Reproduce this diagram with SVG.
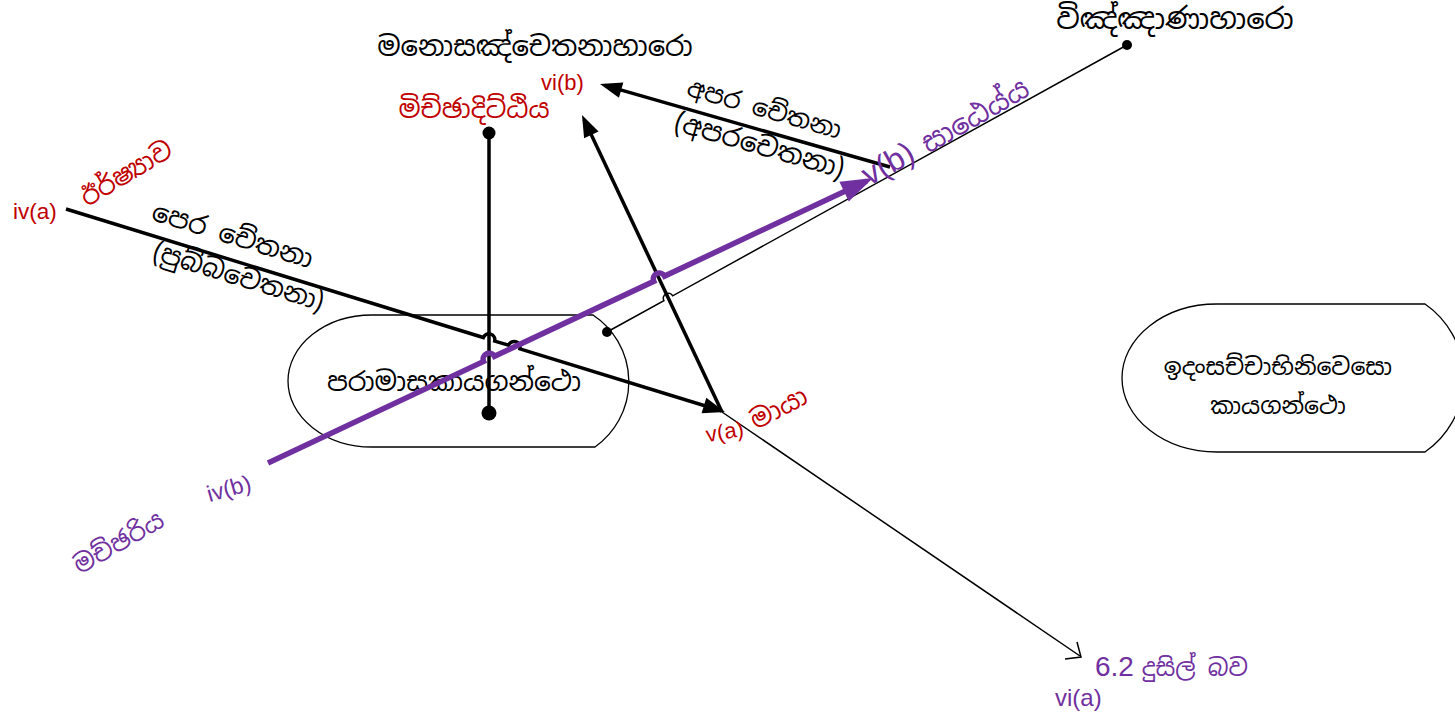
<svg xmlns="http://www.w3.org/2000/svg" width="1455" height="714" viewBox="0 0 1455 714">
<style>
.si{font-family:"Noto Sans Sinhala","Noto Sans","Iskoola Pota",sans-serif}
.la{font-family:"Liberation Sans",Arial,sans-serif}
.k{fill:#000}
.r{fill:#c00000}
.p{fill:#7030a0}
.thick{fill:none;stroke:#000;stroke-width:3.5}
.thin{fill:none;stroke:#000;stroke-width:1.5}
.pur{fill:none;stroke:#7030a0;stroke-width:5.5}
.shape{fill:#fff;stroke:#000;stroke-width:1.3}
</style>
<defs>
<marker id="ab" markerUnits="userSpaceOnUse" markerWidth="24" markerHeight="18" refX="17" refY="8" orient="auto" overflow="visible">
<path d="M0,0 L22,8 L0,16 Z" fill="#000"/>
</marker>
<marker id="ap" markerUnits="userSpaceOnUse" markerWidth="34" markerHeight="24" refX="25" refY="11" orient="auto" overflow="visible">
<path d="M0,0 L32,11 L0,22 Z" fill="#7030a0"/>
</marker>
</defs>

<g id="node-paramasa">
<path class="shape" d="M372,315 L593,315 A80,80 0 0 1 595,447 L372,447 A84,66 0 0 1 372,315 Z"/>
<text class="si k" x="454" y="391" font-size="26.5" text-anchor="middle">පරාමාසකායගන්ථො</text>
</g>
<g id="node-idamsacca">
<path class="shape" d="M1217,304 L1425,304 A90,90 0 0 1 1425,452 L1217,452 A95,74 0 0 1 1217,304 Z"/>
<text class="si k" x="1278" y="375" font-size="23.5" text-anchor="middle">ඉදංසච්චාභිනිවෙසො</text>
<text class="si k" x="1278" y="414" font-size="23.5" text-anchor="middle">කායගන්ථො</text>
</g>

<g id="connectors">
<path class="thick" marker-end="url(#ab)" d="M66,209 L483.3,337.5 A6,6 0 0 1 494.7,341.1 L508.5,345.2 A6,6 0 0 1 519.9,348.8 L720.2,410.5"/>
<path class="thick" marker-end="url(#ab)" d="M722,412 L584.1,119.5"/>
<path class="thick" marker-end="url(#ab)" d="M890,167 L604.8,85.4"/>
<line class="thick" x1="489" y1="133" x2="489" y2="413"/>
<path class="thin" d="M607,332 L663.9,300.6 A5,5 0 0 1 672.7,295.8 L1127,45"/>
<path class="thin" d="M722,412 L1080,656"/>
<path class="thin" stroke-width="2.2" d="M1077,642 L1081,657 L1065,659"/>
<path class="pur" marker-end="url(#ap)" d="M268,463 L483.6,361.5 A6,6 0 0 1 494.4,356.3 L653.8,281.3 A6,6 0 0 1 664.6,276.1 L866.7,181"/>
<circle cx="489" cy="133" r="6.5" fill="#000"/>
<circle cx="489" cy="413" r="7.5" fill="#000"/>
<circle cx="607" cy="332" r="5" fill="#000"/>
<circle cx="1127" cy="45" r="5" fill="#000"/>
</g>

<g id="label-manosanchetana"><text class="si k" x="535" y="56" font-size="27.5" text-anchor="middle">මනොසඤ්චෙතනාහාරො</text></g>
<g id="label-vinnana"><text class="si k" x="1175" y="29" font-size="29" text-anchor="middle">විඤ්ඤාණාහාරො</text></g>
<g id="label-miccha"><text class="si r" x="474" y="118" font-size="26" text-anchor="middle">මිච්ඡාදිට්ඨිය</text></g>
<g id="label-vib"><text class="la r" x="541" y="90" font-size="22">vi(b)</text></g>
<g id="label-iva"><text class="la r" x="13" y="219" font-size="22.5">iv(a)</text></g>
<g id="label-irsha"><text class="si r" font-size="26" text-anchor="middle" transform="translate(131,181) rotate(-31)">ඊර්ෂ්‍යාව</text></g>
<g id="label-pera"><text class="si k" font-size="26.5" text-anchor="middle" transform="translate(230,244) rotate(17)">පෙර චේතනා</text>
<text class="si k" font-size="26" text-anchor="middle" transform="translate(236,285) rotate(17)">(පුබ්බචෙතනා)</text></g>
<g id="label-apara"><text class="si k" font-size="25" text-anchor="middle" transform="translate(762,117) rotate(16)">අපර චේතනා</text>
<text class="si k" font-size="27" text-anchor="middle" transform="translate(757,154) rotate(16)">(අපරචෙතනා)</text></g>
<g id="label-vb"><text class="la p" font-size="32" text-anchor="middle" transform="translate(893,173) rotate(-29)">v(b)</text></g>
<g id="label-satheyya"><text class="si p" font-size="28" text-anchor="middle" transform="translate(980,124) rotate(-30)">සාඨෙය්ය</text></g>
<g id="label-va"><text class="la r" font-size="22" text-anchor="middle" transform="translate(726,439) rotate(-10)">v(a)</text></g>
<g id="label-maya"><text class="si r" font-size="26" text-anchor="middle" transform="translate(783,416) rotate(-28)">මායා</text></g>
<g id="label-ivb"><text class="la p" font-size="23" text-anchor="middle" transform="translate(231,496) rotate(-16)">iv(b)</text></g>
<g id="label-macchariya"><text class="si p" font-size="25" text-anchor="middle" transform="translate(123,550) rotate(-30)">මච්ඡරිය</text></g>
<g id="label-dussila"><text class="p" x="1095" y="676"><tspan class="la" font-size="28">6.2 </tspan><tspan class="si" font-size="24">දුසිල් බව</tspan></text></g>
<g id="label-via"><text class="la p" x="1055" y="706" font-size="24">vi(a)</text></g>
</svg>
